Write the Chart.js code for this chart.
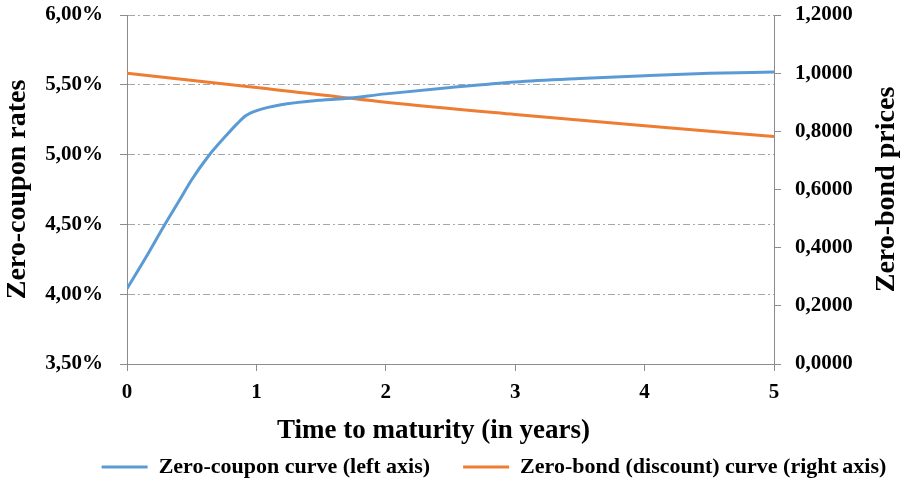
<!DOCTYPE html>
<html>
<head>
<meta charset="utf-8">
<script src="https://cdn.jsdelivr.net/npm/chart.js@4/dist/chart.umd.min.js"></script>
<style>
  html, body { margin: 0; padding: 0; background: #fff; }
  #wrap { width: 904px; height: 488px; }
</style>
</head>
<body>
<div id="wrap"><canvas id="curveChart"></canvas></div>
<script>
// zero-coupon rates (% p.a.) by maturity in years
const rateMaturities = [0, 0.15, 0.28, 0.41, 0.5, 0.63, 0.77, 0.85, 0.92, 1.02, 1.18, 1.5, 1.67, 2, 2.5, 3, 3.5, 4, 4.5, 5];
const zeroRates = [4.04, 4.27, 4.48, 4.68, 4.82, 4.99, 5.14, 5.22, 5.28, 5.32, 5.355, 5.39, 5.40, 5.435, 5.48, 5.52, 5.545, 5.565, 5.582, 5.592];

// zero-bond (discount factor) prices by maturity
const bondMaturities = [0, 1, 2, 3, 4, 5];
const bondPrices = [1.000, 0.951, 0.900, 0.858, 0.819, 0.782];

const seriesLabels = ['Zero-coupon curve (left axis)', 'Zero-bond (discount) curve (right axis)'];
const xTicks = [0, 1, 2, 3, 4, 5];
const xTitle = 'Time to maturity (in years)';
const rightTitle = 'Zero-bond prices';

const FONT = 'Liberation Serif';
const GRID = '#a6a6a6';
const AXIS = '#8c8c8c';

function toPoints(xs, ys) {
  return xs.map((x, i) => ({ x: x, y: ys[i] }));
}

// y axes: fixed width, no extra room above/below for the end labels
function fixY(width) {
  return s => {
    s.width = width;
    s.paddingTop = 0;
    s.paddingBottom = 0;
  };
}

// move the legend row to the right
const legendShift = {
  id: 'legendShift',
  afterLayout(chart) {
    const lg = chart.legend;
    lg.left += 42;
    lg.right += 42;
  }
};

// x title sits a little left of the plot centre; right title reads bottom-to-top
const axisTitles = {
  id: 'axisTitles',
  afterDraw(chart) {
    const c = chart.ctx;
    const x = chart.scales.x;
    const y1 = chart.scales.y1;
    c.save();
    c.fillStyle = '#000';
    c.textAlign = 'center';
    c.textBaseline = 'middle';
    c.font = 'bold 27px "' + FONT + '"';
    c.fillText(xTitle, (x.left + x.right) / 2 - 17, x.bottom + 8);
    c.translate(y1.right - 17, (y1.top + y1.bottom) / 2);
    c.rotate(-Math.PI / 2);
    c.font = 'bold 28px "' + FONT + '"';
    c.fillText(rightTitle, 0, 0);
    c.restore();
  }
};

const ctx = document.getElementById('curveChart').getContext('2d');
new Chart(ctx, {
  type: 'line',
  data: {
    datasets: [
      {
        label: seriesLabels[0],
        data: toPoints(rateMaturities, zeroRates),
        yAxisID: 'y',
        borderColor: '#5b9bd5',
        backgroundColor: '#5b9bd5',
        borderWidth: 3,
        pointRadius: 0,
        cubicInterpolationMode: 'monotone',
        fill: false
      },
      {
        label: seriesLabels[1],
        data: toPoints(bondMaturities, bondPrices),
        yAxisID: 'y1',
        borderColor: '#ed7d31',
        backgroundColor: '#ed7d31',
        borderWidth: 3,
        pointRadius: 0,
        cubicInterpolationMode: 'monotone',
        fill: false
      }
    ]
  },
  plugins: [legendShift, axisTitles],
  options: {
    responsive: true,
    maintainAspectRatio: false,
    animation: false,
    layout: { padding: { top: 15, left: 0, right: 0, bottom: 0 } },
    plugins: {
      tooltip: { enabled: false },
      legend: {
        position: 'bottom',
        align: 'center',
        labels: {
          usePointStyle: true,
          pointStyle: 'line',
          pointStyleWidth: 46,
          padding: 33,
          color: '#000',
          font: { family: FONT, size: 22, weight: 'bold' }
        }
      }
    },
    scales: {
      x: {
        type: 'linear',
        min: 0,
        max: 5,
        afterBuildTicks: s => { s.ticks = xTicks.map(v => ({ value: v })); },
        afterFit: s => { s.height = 59; },
        grid: { drawOnChartArea: false, drawTicks: true, tickLength: 7, tickColor: AXIS },
        border: { display: true, color: AXIS, width: 1 },
        ticks: {
          padding: 9,
          color: '#000',
          font: { family: FONT, size: 21, weight: 'bold' }
        }
      },
      y: {
        position: 'left',
        min: 3.5,
        max: 6.0,
        afterFit: fixY(127),
        ticks: {
          stepSize: 0.5,
          padding: 17,
          color: '#000',
          font: { family: FONT, size: 21, weight: 'bold' },
          callback: v => v.toFixed(2).replace('.', ',') + '%'
        },
        grid: { color: GRID, lineWidth: 1, tickLength: 7, tickColor: AXIS },
        border: { display: true, color: AXIS, width: 1, dash: [7, 3, 2, 3] },
        title: {
          display: true,
          text: 'Zero-coupon rates',
          color: '#000',
          padding: { top: 1, bottom: 0 },
          font: { family: FONT, size: 28, weight: 'bold' }
        }
      },
      y1: {
        position: 'right',
        min: 0,
        max: 1.2,
        afterFit: fixY(130),
        ticks: {
          stepSize: 0.2,
          padding: 14,
          color: '#000',
          font: { family: FONT, size: 21, weight: 'bold' },
          callback: v => v.toFixed(4).replace('.', ',')
        },
        grid: { drawOnChartArea: false, tickLength: 7, tickColor: AXIS },
        border: { display: true, color: AXIS, width: 1 }
      }
    }
  }
});
</script>
</body>
</html>
